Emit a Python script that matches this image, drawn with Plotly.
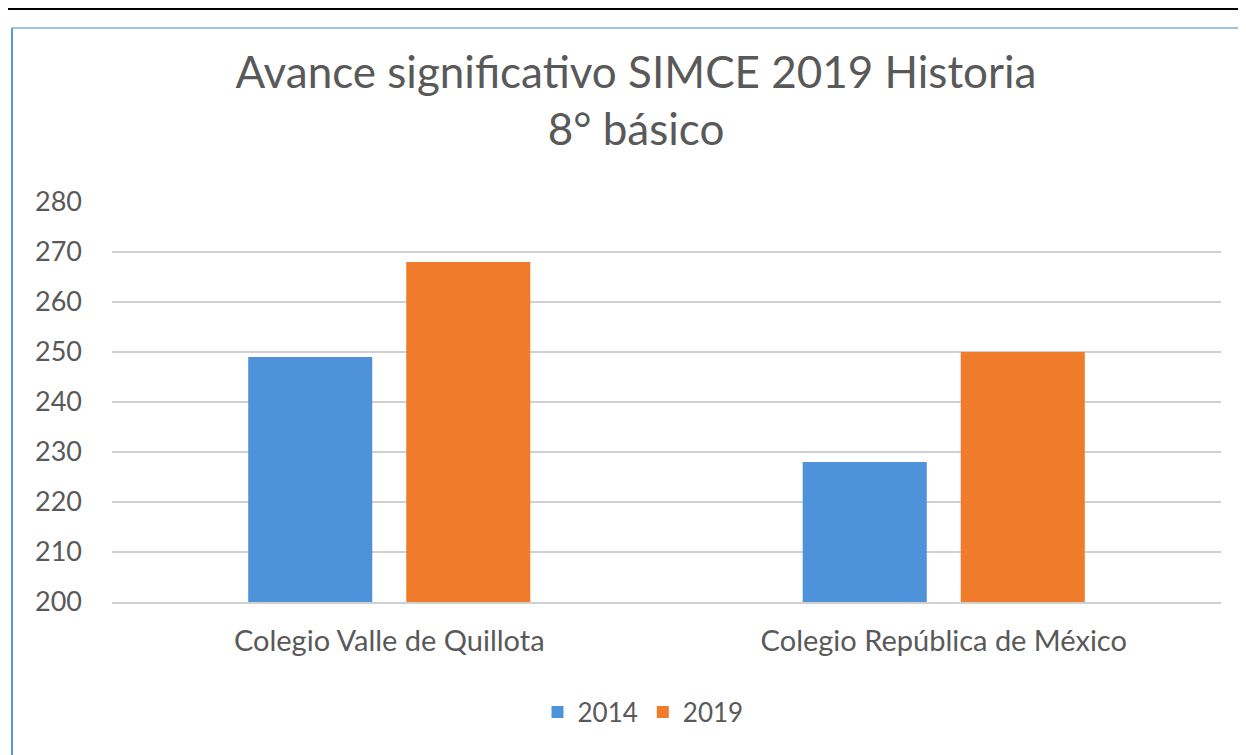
import plotly.graph_objects as go

categories = ["Colegio Valle de Quillota", "Colegio República de México"]
series_names = ["2014", "2019"]
values_2014 = [249, 228]
values_2019 = [268, 250]
y_ticks = [200, 210, 220, 230, 240, 250, 260, 270, 280]
title_text = "Avance significativo SIMCE 2019 Historia<br>8° básico"

FONT = "Lato"
GREY = "#595959"
colors = ["#4E92DA", "#EF7B2B"]

W, H = 1246, 755
OFF = 8  # page body margin
L, T, PW, PH = 104, 194, 1109, 400

fig = go.Figure()
for name, vals, col in zip(series_names, [values_2014, values_2019], colors):
    fig.add_trace(go.Bar(x=categories, y=vals, name=name, marker=dict(color=col, line=dict(width=0))))

fig.update_layout(
    width=W, height=H,
    paper_bgcolor="white", plot_bgcolor="white",
    margin=dict(l=L, r=W - L - PW, t=T, b=H - T - PH),
    barmode="group", bargap=0.43, bargroupgap=0.215,
    title=dict(text=title_text, x=628/W, xanchor="center", xref="container",
               y=1-80/H, yanchor="top", yref="container",
               font=dict(family=FONT, size=44, color=GREY)),
    font=dict(family=FONT, color=GREY),
    legend=dict(orientation="h", x=635/W, xanchor="center", xref="container",
                y=1-704/H, yanchor="middle", yref="container",
                font=dict(family=FONT, size=26, color=GREY), itemwidth=30,
                traceorder="normal"),
    showlegend=True,
)
fig.update_yaxes(range=[200, 280], tickvals=y_ticks, showgrid=True, gridcolor="#D0D0D0", gridwidth=2,
                 zeroline=False, showline=False, ticks="", tickfont=dict(family=FONT, size=27, color=GREY),
                 ticklabelstandoff=29)
fig.update_xaxes(showline=True, linecolor="#D0D0D0", linewidth=2, ticks="",
                 tickfont=dict(family=FONT, size=29, color=GREY), ticklabelstandoff=12)


def px(X):
    return (X - OFF - L) / PW


def py(Y):
    return 1 + (OFF + T - Y) / PH


# document decoration: table border at top and chart frame
fig.add_shape(type="rect", xref="paper", yref="paper",
              x0=px(822), x1=px(1123), y0=py(0), y1=py(9),
              fillcolor="#F0F0F0", line=dict(width=0), layer="below")
fig.add_shape(type="line", xref="paper", yref="paper",
              x0=px(0), x1=px(1260), y0=py(9), y1=py(9),
              line=dict(color="black", width=2))
for vx in [556, 822, 1123]:
    fig.add_shape(type="line", xref="paper", yref="paper",
                  x0=px(vx), x1=px(vx), y0=py(0), y1=py(9),
                  line=dict(color="black", width=2))
fig.add_shape(type="line", xref="paper", yref="paper",
              x0=px(12), x1=px(1260), y0=py(28), y1=py(28),
              line=dict(color="#9DC3E6", width=2))
fig.add_shape(type="line", xref="paper", yref="paper",
              x0=px(12), x1=px(12), y0=py(28), y1=py(770),
              line=dict(color="#5B9BD5", width=2))

fig.write_html("out.html")
